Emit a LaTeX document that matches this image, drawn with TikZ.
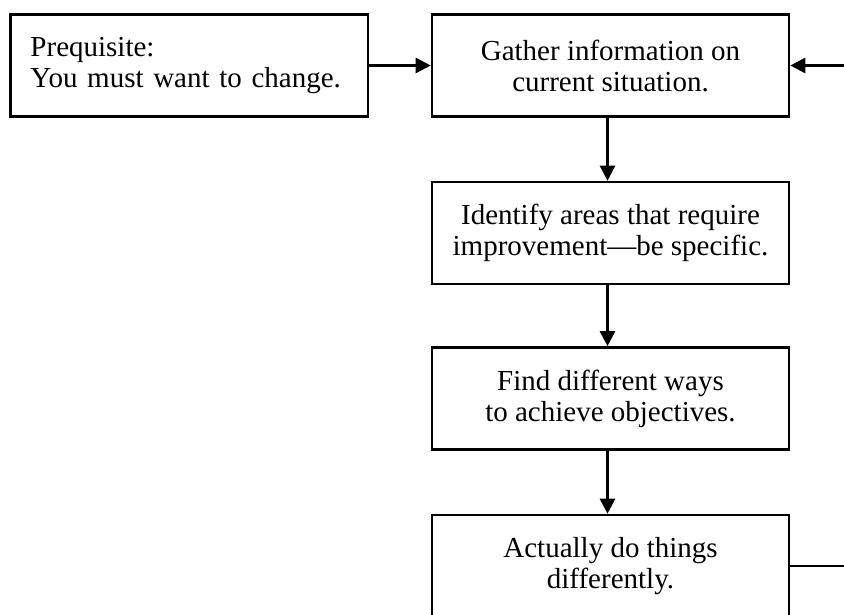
\documentclass[tikz,border=0pt]{standalone}
\usepackage{fontspec}
\setmainfont{Liberation Serif}
\usetikzlibrary{arrows.meta}
\begin{document}
\begin{tikzpicture}[x=1pt,y=-1pt,
  box/.style={draw, line width=2.6pt, minimum width=357pt, minimum height=102pt,
    inner sep=0pt, font=\fontsize{29}{31}\selectfont, align=center},
  arr/.style={line width=2.6pt, -{Triangle[length=15pt,width=15pt]}}]
\clip (0,0) rectangle (844,614);
\fill[white] (0,0) rectangle (844,614);
\node[box, inner xsep=20pt, text width=317.5pt, align=left] (pre) at (189.25,65.5)
  {Prequisite:\\You must want to change.};
\node[box] (gat) at (610.5,65.5) {Gather information on\\current situation.};
\node[box] (ide) at (610.5,233) {Identify areas that require\\improvement---be specific.};
\node[box] (fin) at (610.5,398.5) {Find different ways\\to achieve objectives.};
\node[box] (act) at (610.5,566) {Actually do things\\differently.};
\draw[arr] (pre) -- (gat);
\draw[arr] ([xshift=-3pt]gat.south) -- ([xshift=-3pt]ide.north);
\draw[arr] ([xshift=-3pt]ide.south) -- ([xshift=-3pt]fin.north);
\draw[arr] ([xshift=-3pt]fin.south) -- ([xshift=-3pt]act.north);
\coordinate (loopb) at (880,566);
\draw[arr] (act.east) -- (loopb) |- (gat.east);
\end{tikzpicture}
\end{document}
